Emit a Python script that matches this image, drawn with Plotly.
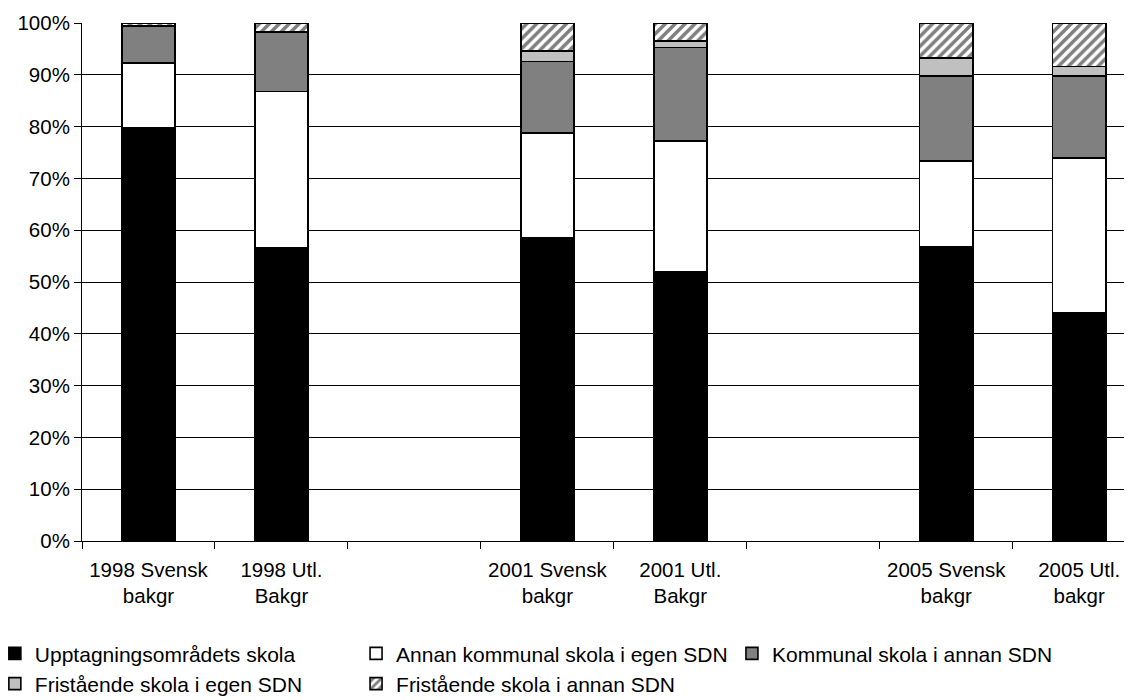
import plotly.graph_objects as go

categories = ["1998 Svensk<br>bakgr", "1998 Utl.<br>Bakgr", " ",
              "2001 Svensk<br>bakgr", "2001 Utl.<br>Bakgr", "  ",
              "2005 Svensk<br>bakgr", "2005 Utl.<br>bakgr"]

series_names = ["Upptagningsområdets skola",
                "Annan kommunal skola i egen SDN",
                "Kommunal skola i annan SDN",
                "Fristående skola i egen SDN",
                "Fristående skola i annan SDN"]

upptagning = [79.8, 56.6, None, 58.5, 51.9, None, 56.8, 44.0]
annan_kommunal_egen = [12.5, 30.2, None, 20.3, 25.3, None, 16.6, 29.9]
kommunal_annan = [7.0, 11.4, None, 13.8, 18.1, None, 16.35, 15.85]
fristaende_egen = [0.2, 0.1, None, 2.0, 1.2, None, 3.55, 1.85]
fristaende_annan = [0.5, 1.7, None, 5.4, 3.5, None, 6.7, 8.4]

series_values = [upptagning, annan_kommunal_egen, kommunal_annan,
                 fristaende_egen, fristaende_annan]
colors = ["#000000", "#ffffff", "#808080", "#c0c0c0", "#ffffff"]
legends = ["legend", "legend2", "legend3", "legend", "legend2"]

FONT = dict(family="Liberation Sans, Arial, sans-serif", size=20.5, color="#000000")
LEGFONT = dict(family="Liberation Sans, Arial, sans-serif", size=21, color="#000000")

fig = go.Figure()
for i, (name, vals) in enumerate(zip(series_names, series_values)):
    marker = dict(color=colors[i], line=dict(color="#000000", width=1.6))
    if i == 4:
        marker["pattern"] = dict(shape="/", fgcolor="#000000", bgcolor="#ffffff",
                                 size=7, solidity=0.5)
    fig.add_trace(go.Bar(x=categories, y=vals, name=name, marker=marker,
                         legend=legends[i], hoverinfo="skip"))

leg_common = dict(orientation="v", font=LEGFONT, bgcolor="rgba(0,0,0,0)",
                  traceorder="normal", yanchor="top", y=-0.178, xanchor="left",
                  itemwidth=30, tracegroupgap=0)

fig.update_layout(
    barmode="stack",
    bargap=0.6,
    width=1124, height=692,
    margin=dict(l=74, r=0, t=14.5, b=158.5, autoexpand=False),
    paper_bgcolor="#ffffff", plot_bgcolor="#ffffff",
    font=FONT,
    showlegend=True,
    legend=dict(leg_common, x=-0.083),
    legend2=dict(leg_common, x=0.261),
    legend3=dict(leg_common, x=0.619),
    xaxis=dict(type="category", categoryorder="array", categoryarray=categories,
               range=[-0.5, 7.397], tickson="boundaries", ticks="outside",
               ticklen=7, tickcolor="#000000", showline=True, linecolor="#000000",
               linewidth=1, showgrid=False, tickfont=FONT, fixedrange=True,
               ticklabelstandoff=10),
    yaxis=dict(range=[0, 100], dtick=10, ticksuffix="%", ticks="outside",
               ticklen=7, tickcolor="#000000", showline=True, linecolor="#000000",
               linewidth=1, showgrid=True, gridcolor="#000000", gridwidth=1,
               zeroline=False, tickfont=FONT, fixedrange=True),
)

fig.write_html("out.html")
